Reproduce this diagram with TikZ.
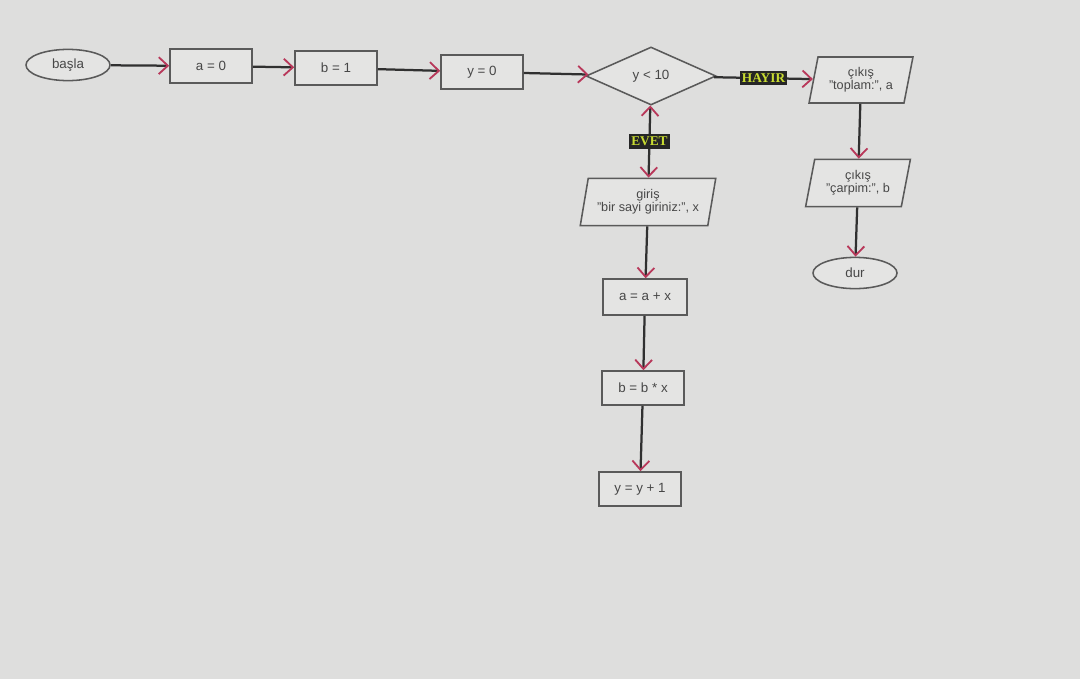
\documentclass[tikz,border=0pt]{standalone}
\usepackage{fontspec}
\setmainfont{Liberation Sans}
\newfontfamily\etiketfont{Liberation Serif}
\usetikzlibrary{shapes.geometric, arrows.meta}
\definecolor{zemin}{HTML}{DEDEDD}
\definecolor{kutuic}{HTML}{E4E4E3}
\definecolor{cizgi}{HTML}{303030}
\definecolor{kenar}{HTML}{5A5A5A}
\definecolor{okucu}{HTML}{B8385A}
\definecolor{sari}{HTML}{C9DC32}

\begin{document}
\begin{tikzpicture}[x=0.025cm,y=-0.025cm,
  >={Straight Barb[length=6.5pt,width=12pt,line width=1.3pt,color=okucu]},
  yazi/.style={font=\fontsize{9.5}{10.5}\selectfont, text=black!72},
  kutu/.style={yazi, draw=kenar, line width=1.1pt, fill=kutuic, minimum width=2.05cm, minimum height=0.85cm, inner sep=1pt},
  uc/.style={kutu, ellipse, minimum width=2.1cm, minimum height=0.78cm},
  karar/.style={kutu, diamond, aspect=2.2, minimum width=3.25cm, minimum height=1.45cm},
  girdi/.style={kutu, trapezium, trapezium left angle=76, trapezium right angle=104, trapezium stretches=true, align=center, font=\fontsize{9}{9.5}\selectfont},
  ok/.style={->, draw=cizgi, line width=1.6pt},
  etiket/.style={fill=black!85, text=sari, inner xsep=1.5pt, inner ysep=2pt, font=\etiketfont\bfseries\fontsize{9.5}{10}\selectfont}]

  \fill[zemin] (0,0) rectangle (1080,679); % arka plan

  % ust sira
  \node[uc] (basla) at (68,65) {başla};
  \node[kutu] (a0) at (211,66) {a = 0};
  \node[kutu] (b1) at (336,68) {b = 1};
  \node[kutu] (y0) at (482,72) {y = 0};
  \node[karar] (kosul) at (651,76) {y < 10};

  % sag kol (HAYIR)
  \node[girdi, minimum width=2.6cm, minimum height=1.15cm] (toplam) at (861,80) {çıkış\\"toplam:", a};
  \node[girdi, minimum width=2.62cm, minimum height=1.18cm] (carpim) at (858,183) {çıkış\\"çarpim:", b};
  \node[uc] (dur) at (855,273) {dur};

  % dongu (EVET)
  \node[girdi, minimum width=3.4cm, minimum height=1.18cm] (giris) at (648,202) {giriş\\"bir sayi giriniz:", x};
  \node[kutu, minimum width=2.1cm, minimum height=0.9cm] (aax) at (645,297) {a = a + x};
  \node[kutu] (bbx) at (643,388) {b = b * x};
  \node[kutu] (yy1) at (640,489) {y = y + 1};

  \foreach \a/\b in {basla/a0, a0/b1, b1/y0, y0/kosul, giris/aax, aax/bbx, bbx/yy1, toplam/carpim, carpim/dur}
    \draw[ok] (\a) -- (\b);

  \draw[ok] (kosul) -- node[etiket]{HAYIR} (toplam);
  \draw[ok, <->] (kosul) -- node[etiket]{EVET} (giris); % iki uclu
\end{tikzpicture}
\end{document}
